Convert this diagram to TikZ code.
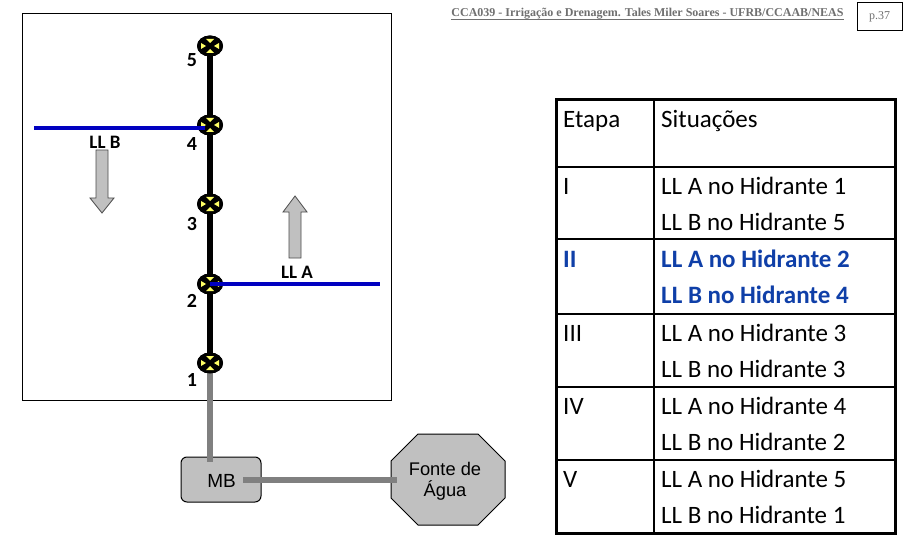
\documentclass[tikz,border=0pt]{standalone}
\usepackage{fontspec}
\setmainfont{Carlito}
\newfontfamily\arialf{Liberation Sans}
\newfontfamily\timesf{Liberation Serif}
\usetikzlibrary{calc,shapes.geometric}
\definecolor{hblue}{HTML}{0000C0}
\definecolor{tblue}{HTML}{0F3FA8}
\definecolor{pipe}{HTML}{808080}
\definecolor{fillg}{HTML}{C0C0C0}
\definecolor{hy}{HTML}{FFFF66}
\definecolor{hdr}{HTML}{707070}
\tikzset{
  hydrant/.style={ellipse,fill=black,inner sep=0pt,minimum width=26pt,minimum height=21pt,
    path picture={
      \fill[hy] (path picture bounding box.center)++(-9,-3)--++(0,6)--++(5,-3)--cycle;
      \fill[hy] (path picture bounding box.center)++(9,-3)--++(0,6)--++(-5,-3)--cycle;
      \fill[hy] (path picture bounding box.center)++(-4,-7)--++(8,0)--++(-4,4)--cycle;
      \fill[hy] (path picture bounding box.center)++(-4,7)--++(8,0)--++(-4,-4)--cycle;
    }},
  numlab/.style={inner sep=0pt,font=\fontsize{20}{20}\selectfont\bfseries},
  lllab/.style={inner sep=0pt,font=\fontsize{19}{19}\selectfont\bfseries},
  cell/.style={anchor=west,inner sep=0pt,font=\fontsize{25}{25}\selectfont},
  bluecell/.style={cell,text=tblue,font=\fontsize{25}{25}\selectfont\bfseries},
  pipeline/.style={draw=pipe,line width=6pt},
  mainline/.style={draw=black,line width=6pt},
  lateral/.style={draw=hblue,line width=3.5pt},
  flow/.style={draw=black!70,line width=0.8pt,fill=fillg},
  rule/.style={line width=2pt},
  outer/.style={line width=3pt}
}
\begin{document}
\begin{tikzpicture}[x=1pt,y=-1pt]
\useasboundingbox (0,0) rectangle (907,540);
\fill[white] (0,0) rectangle (907,540);
\node[draw=black,line width=1pt,minimum width=369pt,minimum height=386pt,inner sep=0pt] (field) at (207,207) {};
\node[hydrant] (h5) at (210,46) {};
\node[hydrant] (h4) at (210,125) {};
\node[hydrant] (h3) at (210,204) {};
\node[hydrant] (h2) at (210,284) {};
\node[hydrant] (h1) at (210,363) {};
\node[draw=black,line width=1pt,fill=fillg,rounded corners=6pt,minimum width=80pt,minimum height=45pt,inner sep=0pt] (mb) at (221,479.5) {};
\coordinate (mbin) at (210,462);
\coordinate (mbout) at (243,480);
\coordinate (octin) at (397,480);
\path[draw=black,line width=1pt,fill=fillg]
  (418,434) -- (478,434) -- (505,461) -- (505,498) -- (478,525) -- (418,525) -- (391,498) -- (391,461) -- cycle;
\node[font=\arialf\fontsize{18.3}{21}\selectfont,align=center,inner sep=0pt] (fonte) at (445,481) {Fonte de\\Água};
\draw[pipeline] (h1.center) -- (mbin);
\draw[pipeline] (mbout) -- (octin);
\node[font=\arialf\fontsize{19}{19}\selectfont,inner sep=0pt] (mbt) at (221.5,481) {MB};
\draw[mainline] (h5.center) -- (h4.center);
\draw[mainline] (h4.center) -- (h3.center);
\draw[mainline] (h3.center) -- (h2.center);
\draw[mainline] (h2.center) -- (h1.center);
\node[hydrant] at (h5) {};
\node[hydrant] at (h4) {};
\node[hydrant] at (h3) {};
\node[hydrant] at (h2) {};
\node[hydrant] at (h1) {};
\coordinate (lbend) at (34,128);
\coordinate (laend) at (380,284);
\draw[lateral] (lbend) -- (205,128);
\draw[lateral] (h2.center) -- (laend);
\node[numlab] (n5) at (192,60) {5};
\node[numlab] (n4) at (192,144) {4};
\node[numlab] (n3) at (192,224) {3};
\node[numlab] (n2) at (192,301) {2};
\node[numlab] (n1) at (192,380) {1};
\node[lllab] (llb) at (105,142) {LL B};
\node[lllab] (lla) at (297,272) {LL A};
\path[flow] (96,150) -- (108,150) -- (108,198) -- (114,198) -- (102,213) -- (90,198) -- (96,198) -- cycle;
\path[flow] (289,258) -- (301,258) -- (301,212) -- (307,212) -- (295,196) -- (283,212) -- (289,212) -- cycle;
\node[font=\timesf\fontsize{12}{12}\selectfont\bfseries,text=hdr,inner sep=0pt] (title) at (647.5,14) {CCA039 - Irrigação e Drenagem. Tales Miler Soares - UFRB/CCAAB/NEAS};
\draw[hdr,line width=0.8pt] (title.south west)++(0,-0.5) -- ($(title.south east)+(0,-0.5)$);
\node[draw=black,line width=1pt,minimum width=45pt,minimum height=28pt,inner sep=0pt,text=hdr,font=\timesf\fontsize{12}{12}\selectfont] (page) at (879.5,17) {p.37};
\draw[rule] (654,100) -- (654,533);
\foreach \yy in {167,239,314,387,460} \draw[rule] (556,\yy) -- (895,\yy);
\draw[outer] (556,100) rectangle (895,533);
\node[cell] (e0) at (563,121) {Etapa};
\node[cell] (s0) at (661,121) {Situações};
\node[cell] (e1) at (563,186) {I};
\node[cell] (s1a) at (661,186) {LL A no Hidrante 1};
\node[cell] (s1b) at (661,222) {LL B no Hidrante 5};
\node[bluecell] (e2) at (563,259) {II};
\node[bluecell] (s2a) at (661,259) {LL A no Hidrante 2};
\node[bluecell] (s2b) at (661,295) {LL B no Hidrante 4};
\node[cell] (e3) at (563,333) {III};
\node[cell] (s3a) at (661,333) {LL A no Hidrante 3};
\node[cell] (s3b) at (661,369) {LL B no Hidrante 3};
\node[cell] (e4) at (563,406) {IV};
\node[cell] (s4a) at (661,406) {LL A no Hidrante 4};
\node[cell] (s4b) at (661,442) {LL B no Hidrante 2};
\node[cell] (e5) at (563,479) {V};
\node[cell] (s5a) at (661,479) {LL A no Hidrante 5};
\node[cell] (s5b) at (661,515) {LL B no Hidrante 1};
\end{tikzpicture}
\end{document}
